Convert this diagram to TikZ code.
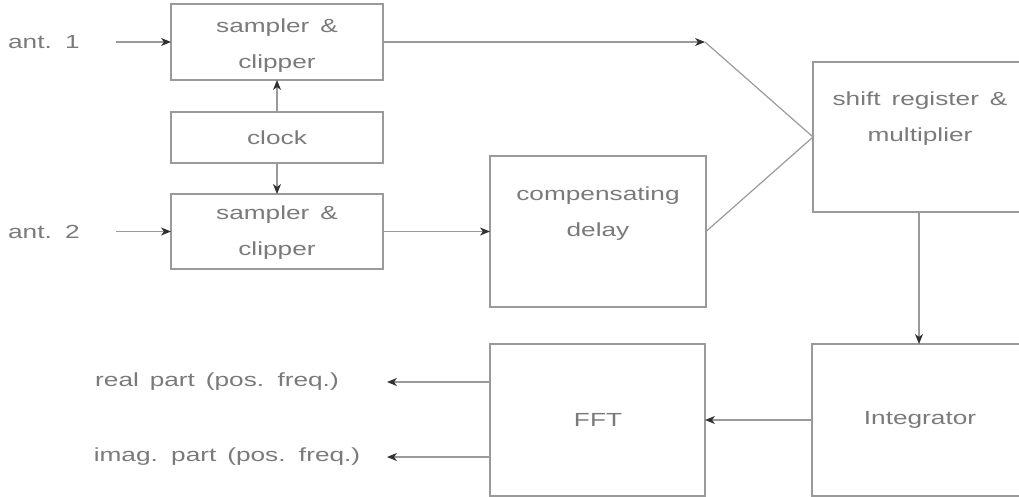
\documentclass[tikz,border=0pt]{standalone}
\usepackage{fontspec}
\setmainfont{Liberation Sans}[FakeStretch=1.38,WordSpace=1.5]
\usetikzlibrary{arrows.meta}
\definecolor{linegray}{HTML}{9A9A9A}
\definecolor{txtgray}{HTML}{7A7A7A}
\definecolor{tipgray}{HTML}{303030}
\begin{document}
\begin{tikzpicture}[x=1pt,y=-1pt,
  box/.style={draw=linegray, line width=1.2pt, rectangle, inner sep=0pt, outer sep=0pt},
  txt/.style={text=txtgray, font=\fontsize{19}{36}\selectfont, align=center, inner sep=0pt},
  conn/.style={draw=linegray, line width=1.2pt},
  arr/.style={conn, -{Stealth[length=10pt,width=8pt,inset=3pt,color=tipgray]}}
]
\useasboundingbox (0,0) rectangle (1019,497);
% boxes
\node[box, minimum width=212pt, minimum height=76pt] (s1) at (277,42) {};
\node[box, minimum width=212pt, minimum height=51pt] (clk) at (277,137.5) {};
\node[box, minimum width=212pt, minimum height=75pt] (s2) at (277,231.5) {};
\node[box, minimum width=216pt, minimum height=151pt] (dly) at (598,231.5) {};
\node[box, minimum width=212pt, minimum height=150pt] (sr) at (919,137) {};
\node[box, minimum width=214pt, minimum height=152pt] (int) at (919,420) {};
\node[box, minimum width=215pt, minimum height=152pt] (fft) at (597.5,420) {};
% texts
\node[txt] (s1t) at (277,46) {sampler \&\\clipper};
\node[txt] (clkt) at (277,137.5) {clock};
\node[txt] (s2t) at (277,233) {sampler \&\\clipper};
\node[txt] (dlyt) at (598,214) {compensating\\delay};
\node[txt] (srt) at (920,119) {shift register \&\\multiplier};
\node[txt] (fftt) at (598,420) {FFT};
\node[txt] (intt) at (920,420) {Integrator};
\node[txt] (a1) at (44,42) {ant. 1};
\node[txt] (a2) at (44,232) {ant. 2};
\node[txt] (re) at (217,382) {real part (pos. freq.)};
\node[txt] (im) at (227,457) {imag. part (pos. freq.)};
% coordinates
\coordinate (a1in) at (116,42);
\coordinate (a2in) at (116,231.5);
\coordinate (j) at (705,42);
\coordinate (reo) at (387,382);
\coordinate (imo) at (387,457);
% connectors
\draw[arr] (a1in) -- (s1.west);
\draw[arr] (a2in) -- (s2.west);
\draw[arr] (clk.north) -- (s1.south);
\draw[arr] (clk.south) -- (s2.north);
\draw[arr] (s1.east) -- (j);
\draw[conn] (j) -- (sr.west);
\draw[arr] (s2.east) -- (s2.east -| dly.west);
\draw[conn] (dly.east) -- (sr.west);
\draw[arr] (sr.south) -- (int.north);
\draw[arr] (int.west) -- (fft.east);
\draw[arr] (fft.west |- reo) -- (reo);
\draw[arr] (fft.west |- imo) -- (imo);
\end{tikzpicture}
\end{document}
